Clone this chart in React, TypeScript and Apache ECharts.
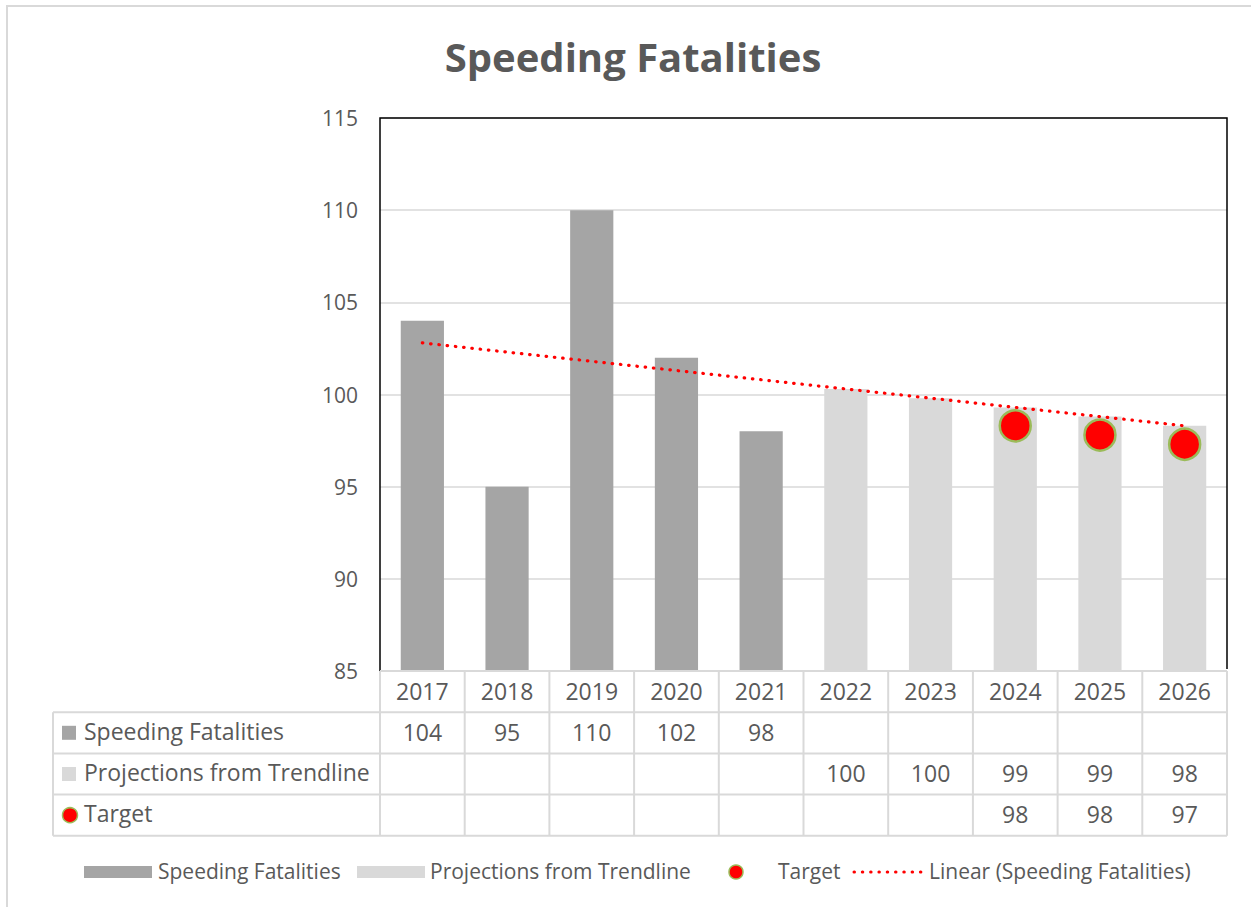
import React, { useEffect, useRef } from 'react';
import * as echarts from 'echarts';

const years = ['2017', '2018', '2019', '2020', '2021', '2022', '2023', '2024', '2025', '2026'];
const speeding: (number | null)[] = [104, 95, 110, 102, 98, null, null, null, null, null];
const projections: (number | null)[] = [null, null, null, null, null, 100.3, 99.8, 99.3, 98.8, 98.3];
const targets: (number | null)[] = [null, null, null, null, null, null, null, 98.3, 97.8, 97.3];
const trend: number[] = [102.8, 102.3, 101.8, 101.3, 100.8, 100.3, 99.8, 99.3, 98.8, 98.3];
const Y_MIN = 85;
const Y_MAX = 115;
const Y_STEP = 5;

const TITLE = 'Speeding Fatalities';
const SERIES_NAMES = ['Speeding Fatalities', 'Projections from Trendline', 'Target', 'Linear (Speeding Fatalities)'];

const W = 1251;
const H = 907;
const PLOT_L = 380;
const PLOT_R = 1227;
const PLOT_T = 118;
const PLOT_B = 671;
const ROW_H = 41.2;
const TABLE_L = 53;
const FONT = '"Open Sans", sans-serif';
const TXT = '#595959';
const GRIDC = '#D9D9D9';
const DARK = '#A5A5A5';
const LIGHT = '#D9D9D9';

export default function App() {
  const ref = useRef<HTMLDivElement>(null);
  useEffect(() => {
    if (!ref.current) return;
    const chart = echarts.init(ref.current, null, { renderer: 'svg' });
    const n = years.length;
    const colW = (PLOT_R - PLOT_L) / n;
    const rows = [0, 1, 2, 3, 4].map((i) => PLOT_B + i * ROW_H);
    const g: any[] = [];
    g.push({ type: 'polyline', shape: { points: [[7, H], [7, 6], [W, 6]] }, style: { stroke: GRIDC, lineWidth: 2, fill: 'none' }, z: 10 });
    g.push({ type: 'polyline', shape: { points: [[PLOT_L, PLOT_B], [PLOT_L, PLOT_T], [PLOT_R, PLOT_T], [PLOT_R, PLOT_B - 2]] }, style: { stroke: '#000', lineWidth: 1.5, fill: 'none' }, z: 10 });
    g.push({ type: 'line', shape: { x1: PLOT_L, y1: rows[0], x2: PLOT_R, y2: rows[0] }, style: { stroke: GRIDC, lineWidth: 2 }, z: 10 });
    for (let r = 1; r < rows.length; r++) {
      g.push({ type: 'line', shape: { x1: TABLE_L, y1: rows[r], x2: PLOT_R, y2: rows[r] }, style: { stroke: GRIDC, lineWidth: 2 }, z: 10 });
    }
    g.push({ type: 'line', shape: { x1: TABLE_L, y1: rows[1], x2: TABLE_L, y2: rows[4] }, style: { stroke: GRIDC, lineWidth: 2 }, z: 10 });
    for (let c = 0; c <= n; c++) {
      const x = PLOT_L + c * colW;
      g.push({ type: 'line', shape: { x1: x, y1: rows[0], x2: x, y2: rows[4] }, style: { stroke: GRIDC, lineWidth: 2 }, z: 10 });
    }
    const fmt = (v: number | null) => (v == null ? '' : String(Math.round(v)));
    const dataRows = [speeding, projections, targets];
    const TF = `23px ${FONT}`;
    for (let c = 0; c < n; c++) {
      const cx = PLOT_L + (c + 0.5) * colW;
      g.push({ type: 'text', x: cx, y: (rows[0] + rows[1]) / 2 - 1, style: { text: years[c], fill: TXT, font: TF, align: 'center', verticalAlign: 'middle' }, z: 11 });
      dataRows.forEach((arr, r) => {
        const t = fmt(arr[c]);
        if (t) g.push({ type: 'text', x: cx, y: (rows[r + 1] + rows[r + 2]) / 2 - 1, style: { text: t, fill: TXT, font: TF, align: 'center', verticalAlign: 'middle' }, z: 11 });
      });
    }
    for (let r = 0; r < 3; r++) {
      const cy = (rows[r + 1] + rows[r + 2]) / 2;
      if (r < 2) {
        g.push({ type: 'rect', shape: { x: 62, y: cy - 7, width: 14, height: 14 }, style: { fill: r === 0 ? DARK : LIGHT }, z: 11 });
      } else {
        g.push({ type: 'circle', shape: { cx: 70, cy, r: 7.5 }, style: { fill: '#FF0000', stroke: '#9BBB59', lineWidth: 1.5 }, z: 11 });
      }
      g.push({ type: 'text', x: 84, y: cy - 2, style: { text: SERIES_NAMES[r], fill: TXT, font: TF, align: 'left', verticalAlign: 'middle' }, z: 11 });
    }
    const ly = 872;
    const LF = `21px ${FONT}`;
    g.push({ type: 'rect', shape: { x: 84, y: ly - 6, width: 68, height: 12 }, style: { fill: DARK }, z: 11 });
    g.push({ type: 'text', x: 158, y: ly - 1, style: { text: SERIES_NAMES[0], fill: TXT, font: LF, align: 'left', verticalAlign: 'middle' }, z: 11 });
    g.push({ type: 'rect', shape: { x: 357, y: ly - 6, width: 68, height: 12 }, style: { fill: LIGHT }, z: 11 });
    g.push({ type: 'text', x: 430, y: ly - 1, style: { text: SERIES_NAMES[1], fill: TXT, font: LF, align: 'left', verticalAlign: 'middle' }, z: 11 });
    g.push({ type: 'circle', shape: { cx: 736, cy: ly, r: 7 }, style: { fill: '#FF0000', stroke: '#9BBB59', lineWidth: 1.5 }, z: 11 });
    g.push({ type: 'text', x: 778, y: ly - 1, style: { text: SERIES_NAMES[2], fill: TXT, font: LF, align: 'left', verticalAlign: 'middle' }, z: 11 });
    g.push({ type: 'line', shape: { x1: 854, y1: ly, x2: 921, y2: ly }, style: { stroke: '#FF0000', lineWidth: 3, lineDash: [0.5, 7.8], lineCap: 'round' }, z: 11 });
    g.push({ type: 'text', x: 929, y: ly - 1, style: { text: SERIES_NAMES[3], fill: TXT, font: LF, align: 'left', verticalAlign: 'middle' }, z: 11 });

    chart.setOption({
      animation: false,
      backgroundColor: '#fff',
      title: {
        text: TITLE,
        left: 628,
        top: 31,
        textAlign: 'center',
        textStyle: { fontFamily: FONT, fontWeight: 'bold', fontSize: 40, color: TXT },
      },
      grid: { left: PLOT_L, right: W - PLOT_R, top: PLOT_T, bottom: H - PLOT_B, containLabel: false },
      xAxis: {
        type: 'category',
        data: years,
        axisLine: { show: false },
        axisTick: { show: false },
        axisLabel: { show: false },
      },
      yAxis: {
        type: 'value',
        min: Y_MIN,
        max: Y_MAX,
        interval: Y_STEP,
        axisLine: { show: false },
        axisTick: { show: false },
        axisLabel: { color: TXT, fontFamily: FONT, fontSize: 21, margin: 22 },
        splitLine: { lineStyle: { color: GRIDC, width: 1.5 } },
      },
      series: [
        { name: SERIES_NAMES[0], type: 'bar', data: speeding, barWidth: '51%', barGap: '-100%', itemStyle: { color: DARK }, z: 2 },
        { name: SERIES_NAMES[1], type: 'bar', data: projections, barWidth: '51%', barGap: '-100%', itemStyle: { color: LIGHT }, z: 2 },
        {
          name: SERIES_NAMES[3], type: 'line', data: trend, symbol: 'none', z: 3,
          lineStyle: { color: '#FF0000', width: 3.2, type: [0.5, 7.8], cap: 'round' },
        },
        {
          name: SERIES_NAMES[2], type: 'scatter', data: targets, symbol: 'circle', symbolSize: 31, z: 4,
          itemStyle: { color: '#FF0000', borderColor: '#9BBB59', borderWidth: 2.5, opacity: 1 },
        },
      ],
      graphic: g,
    });
    return () => chart.dispose();
  }, []);
  return <div ref={ref} style={{ position: 'fixed', left: 0, top: 0, width: W, height: H }} />;
}
